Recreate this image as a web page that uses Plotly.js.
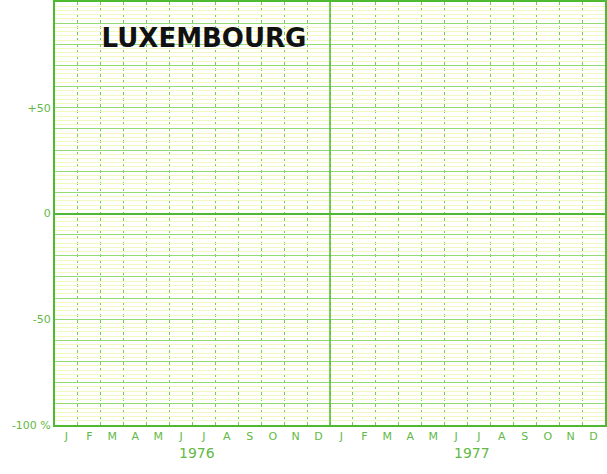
<!DOCTYPE html>
<html>
<head>
<meta charset="utf-8">
<script src="https://cdn.plot.ly/plotly-3.0.1.min.js"></script>
<style>html,body{margin:0;padding:0;background:#fff;}#chart{width:607px;height:474px;}</style>
</head>
<body>
<div id="chart"></div>
<script>
// ---- data ----
var country = "LUXEMBOURG";
var years = ["1976", "1977"];
var monthLetters = ["J","F","M","A","M","J","J","A","S","O","N","D"];
var yTickValues = [-100, -90, -80, -70, -60, -50, -40, -30, -20, -10, 0, 10, 20, 30, 40, 50, 60, 70, 80, 90, 100];
var yTickLabels = ["-100 %", "", "", "", "", "-50", "", "", "", "", "0", "", "", "", "", "+50", "", "", "", "", "+100 %"];
var seriesX = [];   // the chart carries no plotted series
var seriesY = [];

// ---- derived ----
var nMonths = monthLetters.length * years.length;
var monthCenters = [], monthText = [], monthBounds = [];
for (var i = 0; i < nMonths; i++) {
  monthCenters.push(i + 0.5);
  monthText.push(monthLetters[i % monthLetters.length]);
}
for (var j = 0; j <= nMonths; j++) monthBounds.push(j);

var green = "rgb(80,185,50)";
var gridGreen = "rgb(150,218,115)";
var vGridGreen = "rgb(115,200,85)";
var yellow = "rgb(243,248,190)";
var txtGreen = "rgb(100,185,70)";

var traces = [
  {x: seriesX, y: seriesY, type: "scatter", mode: "lines", showlegend: false, hoverinfo: "skip"}
];

var layout = {
  width: 607, height: 474,
  margin: {l: 55, r: 2, t: 2, b: 49},
  paper_bgcolor: "#ffffff",
  plot_bgcolor: "#ffffff",
  showlegend: false,
  title: {
    text: "<b>" + country + "</b>",
    font: {family: "DejaVu Sans", size: 26, color: "#111111"},
    x: 204 / 607, xanchor: "center",
    y: 1 - 38 / 474, yanchor: "middle"
  },
  xaxis: {
    range: [0, nMonths],
    tickmode: "array",
    tickvals: monthCenters,
    ticktext: monthText,
    ticks: "",
    showgrid: false,
    zeroline: false,
    showline: true, linecolor: green, linewidth: 2, mirror: true,
    tickfont: {family: "DejaVu Sans", size: 11, color: txtGreen},
    minor: {tickmode: "array", tickvals: monthBounds, showgrid: true, gridcolor: vGridGreen, gridwidth: 1, griddash: "dot", ticks: ""},
    fixedrange: true
  },
  yaxis: {
    range: [-100, 100],
    tickmode: "array",
    tickvals: yTickValues,
    ticktext: yTickLabels,
    ticks: "",
    showgrid: true, gridcolor: gridGreen, gridwidth: 1,
    zeroline: true, zerolinecolor: green, zerolinewidth: 2,
    showline: true, linecolor: green, linewidth: 2, mirror: true,
    tickfont: {family: "DejaVu Sans", size: 11, color: txtGreen},
    minor: {dtick: 2, showgrid: true, gridcolor: yellow, gridwidth: 1, ticks: ""},
    fixedrange: true
  },
  shapes: [{
    type: "line", xref: "x", yref: "paper",
    x0: monthLetters.length, x1: monthLetters.length, y0: 0, y1: 1,
    line: {color: green, width: 1.5}
  }],
  annotations: years.map(function (yr, k) {
    return {
      text: yr, xref: "x", yref: "paper",
      x: k * monthLetters.length + 6.2, y: 0, yshift: -28,
      xanchor: "center", yanchor: "middle", showarrow: false,
      font: {family: "DejaVu Sans", size: 14, color: txtGreen}
    };
  })
};

Plotly.newPlot("chart", traces, layout, {staticPlot: true, displayModeBar: false});
</script>
</body>
</html>
